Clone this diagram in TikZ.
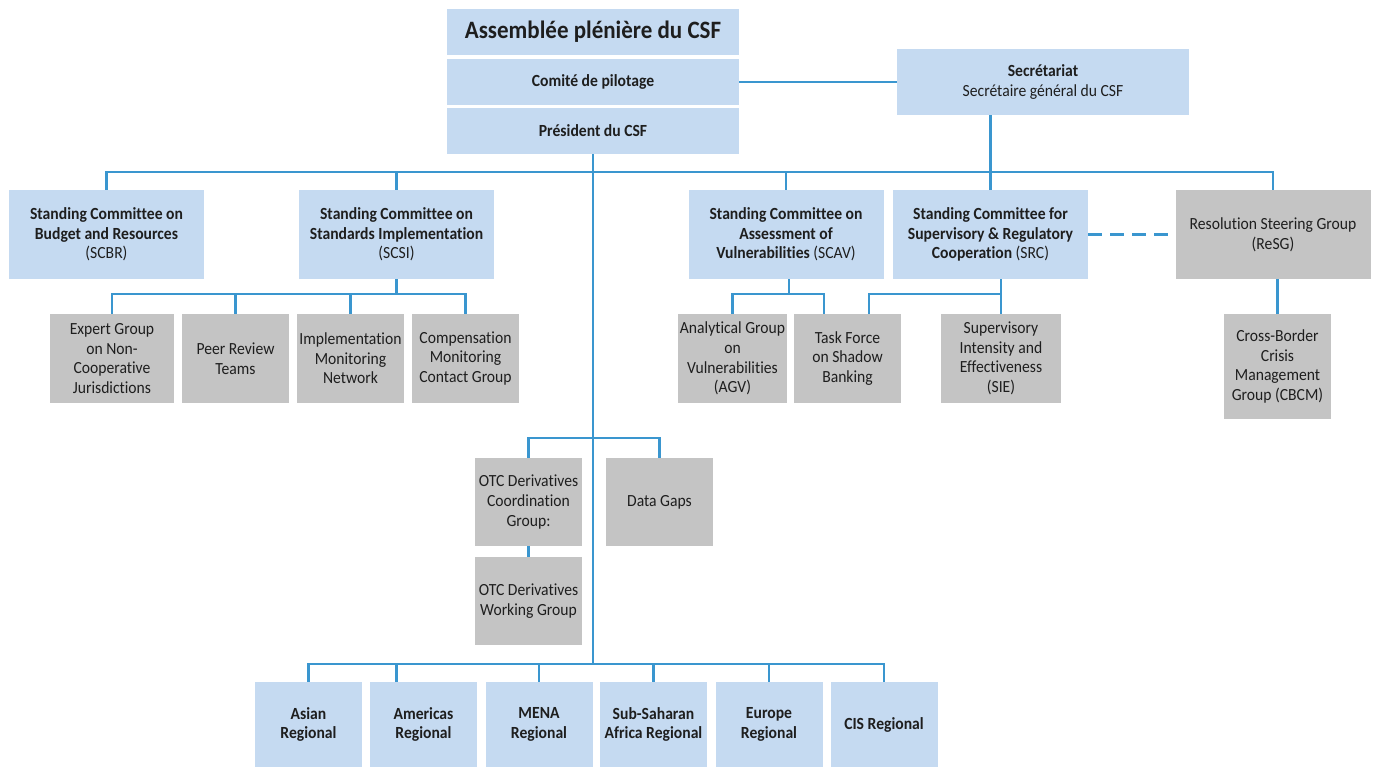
\documentclass[tikz,border=0pt]{standalone}
\usepackage{fontspec}
\setmainfont{Carlito}[FakeStretch=0.92, Ligatures=NoCommon]

\definecolor{hellblau}{RGB}{197,218,241}
\definecolor{hellgrau}{RGB}{196,196,196}
\definecolor{linie}{RGB}{58,150,207}
\definecolor{schrift}{RGB}{30,30,30}

\tikzset{
    kasten/.style={inner sep=1pt, align=center, text=schrift,
        font=\fontsize{8.5}{9.8}\selectfont},
    blau/.style={kasten, fill=hellblau},
    grau/.style={kasten, fill=hellgrau},
    breit/.style={minimum width=146pt, minimum height=23pt},
    komitee/.style={minimum width=97.5pt, minimum height=44.5pt},
    klein/.style={minimum width=53.5pt, minimum height=44.5pt},
    regio/.style={blau, klein, minimum height=42.5pt, font=\fontsize{8.5}{9.8}\selectfont\bfseries},
    verbindung/.style={draw=linie, line width=1.2pt}
}

\begin{document}
\begin{tikzpicture}[x=0.5pt, y=-0.5pt]
    \useasboundingbox (0,0) rectangle (1375,767);

    % -- Spitze --
    \node[blau, breit, font=\fontsize{12.5}{14}\selectfont\bfseries] (assemblee) at (593,32) {Assemblée plénière du CSF};
    \node[blau, breit, font=\fontsize{8.5}{9.8}\selectfont\bfseries] (comite) at (593,82) {Comité de pilotage};
    \node[blau, breit, font=\fontsize{8.5}{9.8}\selectfont\bfseries] (president) at (593,131) {Président du CSF};
    \node[blau, breit, minimum height=33pt] (secretariat) at (1043,82) {\textbf{Secrétariat}\\Secrétaire général du CSF};

    % -- Ständige Ausschüsse --
    \node[blau, komitee] (scbr) at (106.5,234.5) {\textbf{Standing Committee on}\\\textbf{Budget and Resources}\\(SCBR)};
    \node[blau, komitee] (scsi) at (396.5,234.5) {\textbf{Standing Committee on}\\\textbf{Standards Implementation}\\(SCSI)};
    \node[blau, komitee] (scav) at (786,234.5) {\textbf{Standing Committee on}\\\textbf{Assessment of}\\\textbf{Vulnerabilities} (SCAV)};
    \node[blau, komitee] (src) at (990.5,234.5) {\textbf{Standing Committee for}\\\textbf{Supervisory \& Regulatory}\\\textbf{Cooperation} (SRC)};
    \node[grau, komitee] (resg) at (1273,234.5) {Resolution Steering Group\\(ReSG)};

    % -- Arbeitsgruppen --
    \node[grau, klein, minimum width=62pt] (expert) at (112,358.5) {Expert Group\\on Non-\\Cooperative\\Jurisdictions};
    \node[grau, klein] (peer) at (235.5,358.5) {Peer Review\\Teams};
    \node[grau, klein] (impl) at (350.5,358.5) {Implementation\\Monitoring\\Network};
    \node[grau, klein] (comp) at (465.5,358.5) {Compensation\\Monitoring\\Contact Group};
    \node[grau, klein] (agv) at (732.5,358.5) {Analytical Group\\on\\Vulnerabilities\\(AGV)};
    \node[grau, klein] (tfsb) at (847.5,358.5) {Task Force\\on Shadow\\Banking};
    \node[grau, klein, minimum width=60pt] (sie) at (1001,358.5) {Supervisory\\Intensity and\\Effectiveness\\(SIE)};
    \node[grau, klein, minimum height=52.5pt] (cbcm) at (1277.5,366.5) {Cross-Border\\Crisis\\Management\\Group (CBCM)};

    \node[grau, klein, minimum height=44pt] (otcc) at (528.5,502) {OTC Derivatives\\Coordination\\Group:};
    \node[grau, klein, minimum height=44pt] (gaps) at (659.5,502) {Data Gaps};
    \node[grau, klein, minimum height=44pt] (otcw) at (528.5,601) {OTC Derivatives\\Working Group};

    % -- Regionale Gruppen --
    \node[regio] (asian) at (308.5,724.5) {Asian\\Regional};
    \node[regio] (americas) at (423.5,724.5) {Americas\\Regional};
    \node[regio] (mena) at (539,724.5) {MENA\\Regional};
    \node[regio] (subsahara) at (653.5,724.5) {Sub-Saharan\\Africa Regional};
    \node[regio] (europe) at (769,724.5) {Europe\\Regional};
    \node[regio] (cis) at (884,724.5) {CIS Regional};

    % -- Hilfspunkte für die Sammelschienen --
    \coordinate (obenbus) at (0,172);
    \coordinate (mittebus) at (0,438);
    \coordinate (untenbus) at (0,664);
    \coordinate (scsibus) at (0,294);
    \coordinate (tfa) at ([xshift=-11.75pt]tfsb.north);
    \coordinate (tfb) at ([xshift=10.75pt]tfsb.north);

    % -- Verbindungen oben --
    \draw[verbindung] (comite) -- (secretariat);
    \draw[verbindung] (secretariat.south -| src.north) -- (obenbus -| src.north);
    \draw[verbindung] (president.south) -- (president.south |- untenbus);
    \draw[verbindung] (scbr.north) |- (obenbus -| resg.north) -- (resg.north);
    \draw[verbindung] (scsi.north) -- (scsi.north |- obenbus);
    \draw[verbindung] (scav.north) -- (scav.north |- obenbus);
    \draw[verbindung] (src.north) -- (src.north |- obenbus);
    \draw[verbindung, dash pattern=on 7pt off 4pt] (src.east) -- (resg.west);

    % -- SCSI --
    \draw[verbindung] (scsi.south) -- (scsi.south |- scsibus);
    \draw[verbindung] (expert.north) |- (scsibus -| comp.north) -- (comp.north);
    \draw[verbindung] (peer.north) -- (peer.north |- scsibus);
    \draw[verbindung] (impl.north) -- (impl.north |- scsibus);

    % -- SCAV und SRC --
    \draw[verbindung] ([xshift=1.5pt]scav.south) -- ([xshift=1.5pt]scav.south |- scsibus);
    \draw[verbindung] (agv.north) |- (scsibus -| tfa) -- (tfa);
    \draw[verbindung] (tfb) |- (scsibus -| sie.north) -- (sie.north);
    \draw[verbindung] (src.south -| sie.north) -- (scsibus -| sie.north);
    \draw[verbindung] (resg.south -| cbcm.north) -- (cbcm.north);

    % -- Mitte --
    \draw[verbindung] (otcc.north) |- (mittebus -| gaps.north) -- (gaps.north);
    \draw[verbindung] (otcc.south) -- (otcw.north);

    % -- Regionen --
    \draw[verbindung] (asian.north) |- (untenbus -| cis.north) -- (cis.north);
    \draw[verbindung] ([xshift=-13.5pt]americas.north) -- ([xshift=-13.5pt]americas.north |- untenbus);
    \draw[verbindung] (mena.north) -- (mena.north |- untenbus);
    \draw[verbindung] (subsahara.north) -- (subsahara.north |- untenbus);
    \draw[verbindung] (europe.north) -- (europe.north |- untenbus);
\end{tikzpicture}
\end{document}
